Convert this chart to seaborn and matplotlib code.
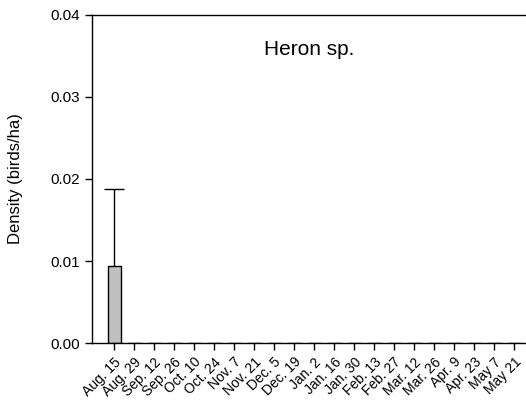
import matplotlib
matplotlib.use("Agg")
import matplotlib.pyplot as plt
import numpy as np
import pandas as pd
import seaborn as sns

dates = ["Aug. 15", "Aug. 29", "Sep. 12", "Sep. 26", "Oct. 10", "Oct. 24",
         "Nov. 7", "Nov. 21", "Dec. 5", "Dec. 19", "Jan. 2", "Jan. 16",
         "Jan. 30", "Feb. 13", "Feb. 27", "Mar. 12", "Mar. 26", "Apr. 9",
         "Apr. 23", "May 7", "May 21"]
density = [0.0094] + [0.0] * 20
upper_err = [0.0094] + [0.0] * 20

df = pd.DataFrame({"date": dates, "density": density})

sns.set_theme(style="ticks", rc={"text.color": "black", "axes.labelcolor": "black",
                                 "xtick.color": "black", "ytick.color": "black"})
plt.rcParams['font.family'] = ['Liberation Sans', 'DejaVu Sans']

fig, ax = plt.subplots(figsize=(5.26, 4.11), dpi=100)
sns.barplot(data=df, x="date", y="density", color="#c0c0c0",
            edgecolor="black", linewidth=1.0, width=0.65, saturation=1, ax=ax)

# upper error bars only, where there is something to show
pos = np.arange(len(dates))
err = np.array(upper_err)
mask = err > 0
eb = ax.errorbar(pos[mask], np.array(density)[mask],
                 yerr=[np.zeros(mask.sum()), err[mask]],
                 fmt="none", ecolor="black", elinewidth=1.0, capsize=7, capthick=1.0)
# drop the lower cap, the reference only shows the top one
eb[1][0].remove()

ax.set_xlim(-1.1, 20.6)
ax.set_ylim(0, 0.04)
ax.set_yticks([0.0, 0.01, 0.02, 0.03, 0.04])
ax.set_yticklabels(["0.00", "0.01", "0.02", "0.03", "0.04"], fontsize=11)
ax.set_xlabel("")
ax.set_ylabel("Density (birds/ha)", fontsize=12, labelpad=20)
plt.xticks(rotation=45, ha="right", rotation_mode="anchor", fontsize=10)

ax.text(0.5, 0.895, "Heron sp.", transform=ax.transAxes, fontsize=15, ha="center", va="center")

ax.spines["right"].set_visible(False)
ax.spines["top"].set_visible(True)
for s in ["left", "bottom", "top"]:
    ax.spines[s].set_linewidth(1.0)
    ax.spines[s].set_color("black")
ax.tick_params(axis="both", length=5, width=1.0, color="black", direction="out")

fig.subplots_adjust(left=0.175, right=1.0, top=0.964, bottom=0.165)
fig.savefig("out.png", dpi=100)
